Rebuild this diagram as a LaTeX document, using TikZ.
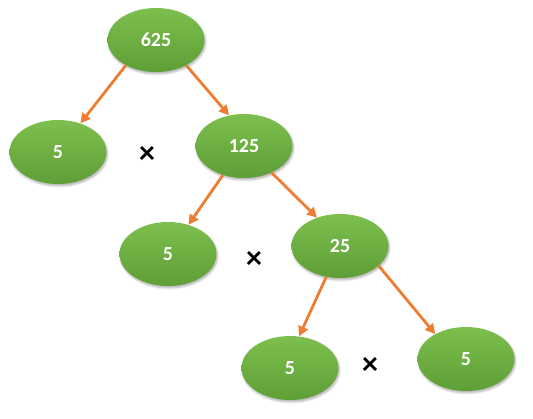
\documentclass[tikz,border=0pt]{standalone}
\usepackage{fontspec}
\setmainfont{Carlito}
\usetikzlibrary{shapes.geometric,arrows.meta,shadows.blur}
\definecolor{gtop}{HTML}{7DBF4E}
\definecolor{gbot}{HTML}{5E9E36}
\definecolor{arr}{HTML}{ED7D31}
\tikzset{
  leaf/.style={ellipse, minimum width=97pt, minimum height=64pt, inner sep=0pt,
    top color=gtop, bottom color=gbot, text=white, font=\bfseries\fontsize{20}{20}\selectfont,
    blur shadow={shadow xshift=1pt, shadow yshift=-2pt, shadow blur steps=6, shadow opacity=30}},
  link/.style={draw=arr, line width=2.8pt, -{Triangle[length=10pt,width=10pt]}},
  times/.style={font=\bfseries\fontsize{32}{32}\selectfont, inner sep=0pt}
}
\begin{document}
\begin{tikzpicture}[x=1pt,y=-1pt]
\useasboundingbox (0,0) rectangle (533,418);
\node[leaf] (a) at (156,40) {625};
\node[leaf] (b) at (58,152) {5};
\node[leaf] (c) at (244,146) {125};
\node[leaf] (d) at (168,254) {5};
\node[leaf] (e) at (340,246) {25};
\node[leaf] (f) at (290,368) {5};
\node[leaf] (g) at (466,359) {5};
\node[times] (x1) at (147,155) {×};
\node[times] (x2) at (254,260) {×};
\node[times] (x3) at (370,366) {×};
\draw[link] (a.-140) -- (b.52);
\draw[link] (a.-40) -- (c.116);
\draw[link] (c.-126) -- (d.55);
\draw[link] (c.-44) -- (e.129);
\draw[link] (e.-114) -- (f.74);
\draw[link] (e.-27) -- (g.141);
\end{tikzpicture}
\end{document}
